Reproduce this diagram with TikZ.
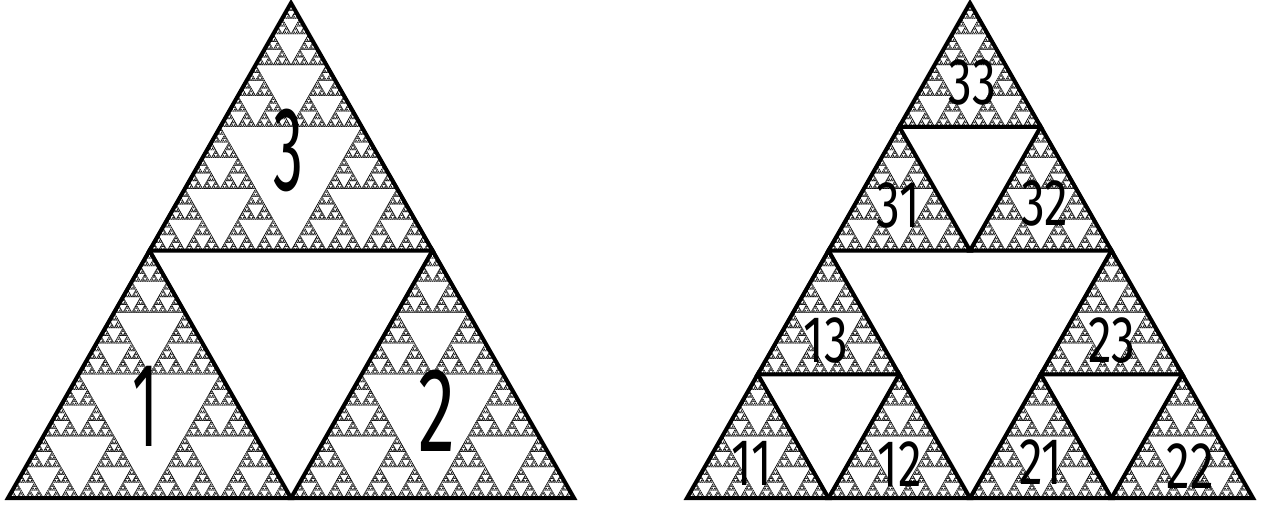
\documentclass[tikz,border=0pt]{standalone}
\usepackage{fontspec}
\newfontfamily\hand{Fira Sans}
\newcommand\sierpleaf[2]{%
  \pgfpathmoveto{\pgfqpointxy{#1}{#2}}%
  \pgfpathlineto{\pgfqpointxy{\the\numexpr#1+1\relax}{#2}}%
  \pgfpathlineto{\pgfqpointxy{#1}{\the\numexpr#2+1\relax}}%
  \pgfpathclose\pgfusepath{stroke}}
\newcommand\sierprec[3]{%
  \ifnum#3=1 \sierpleaf{#1}{#2}\else
    \edef\sierpnext{\noexpand\sierpthree{\the\numexpr#1\relax}{\the\numexpr#2\relax}{\the\numexpr#3/2\relax}}%
    \expandafter\sierpnext\fi}
\newcommand\sierpthree[3]{%
  \sierprec{#1}{#2}{#3}%
  \sierprec{\the\numexpr#1+#3\relax}{#2}{#3}%
  \sierprec{#1}{\the\numexpr#2+#3\relax}{#3}}
\begin{document}
\begin{tikzpicture}[x=1pt,y=-1pt,
  tri/.style={line width=4pt,line join=miter},
  bigdigit/.style={inner sep=0pt,font=\hand\fontsize{120}{120}\selectfont},
  smalldigit/.style={inner sep=0pt,font=\hand\fontsize{66}{66}\selectfont}]
\useasboundingbox (0,0) rectangle (1263,506);
\fill[white] (0,0) rectangle (1263,506);
% left figure
\begin{scope}[shift={(8,498)},x={(2.2109375pt,0pt)},y={(1.10546875pt,1.93359375pt)}]
  \pgfsetlinewidth{0.35pt}
  \sierprec{0}{0}{256}
  \draw[tri] (0,0) -- (128,0) -- (0,128) -- cycle;
  \draw[tri] (128,0) -- (256,0) -- (128,128) -- cycle;
  \draw[tri] (0,128) -- (128,128) -- (0,256) -- cycle;
\end{scope}
% right figure
\begin{scope}[shift={(687,498)},x={(2.2109375pt,0pt)},y={(1.10546875pt,1.93359375pt)}]
  \pgfsetlinewidth{0.35pt}
  \sierprec{0}{0}{256}
  \foreach \a/\b in {0/0,64/0,0/64,128/0,192/0,128/64,0/128,64/128,0/192}{
    \draw[tri] (\a,\b) -- ++(64,0) -- ++(-64,64) -- cycle;
  }
\end{scope}
% labels
\node[bigdigit,xscale=0.5] (n3) at (288,150) {3};
\node[bigdigit,xscale=0.5] (n1) at (145,406) {1};
\node[bigdigit,xscale=0.62] (n2) at (437,411) {2};
\node[smalldigit,xscale=0.72] (n33) at (972,82) {33};
\node[smalldigit,xscale=0.72] (n31) at (898,205) {31};
\node[smalldigit,xscale=0.72] (n32) at (1045,203) {32};
\node[smalldigit,xscale=0.72] (n13) at (826,340) {13};
\node[smalldigit,xscale=0.72] (n23) at (1112,340) {23};
\node[smalldigit,xscale=0.72] (n11) at (752,463) {11};
\node[smalldigit,xscale=0.72] (n12) at (900,464) {12};
\node[smalldigit,xscale=0.72] (n21) at (1041,462) {21};
\node[smalldigit,xscale=0.72] (n22) at (1190,466) {22};
\end{tikzpicture}
\end{document}
